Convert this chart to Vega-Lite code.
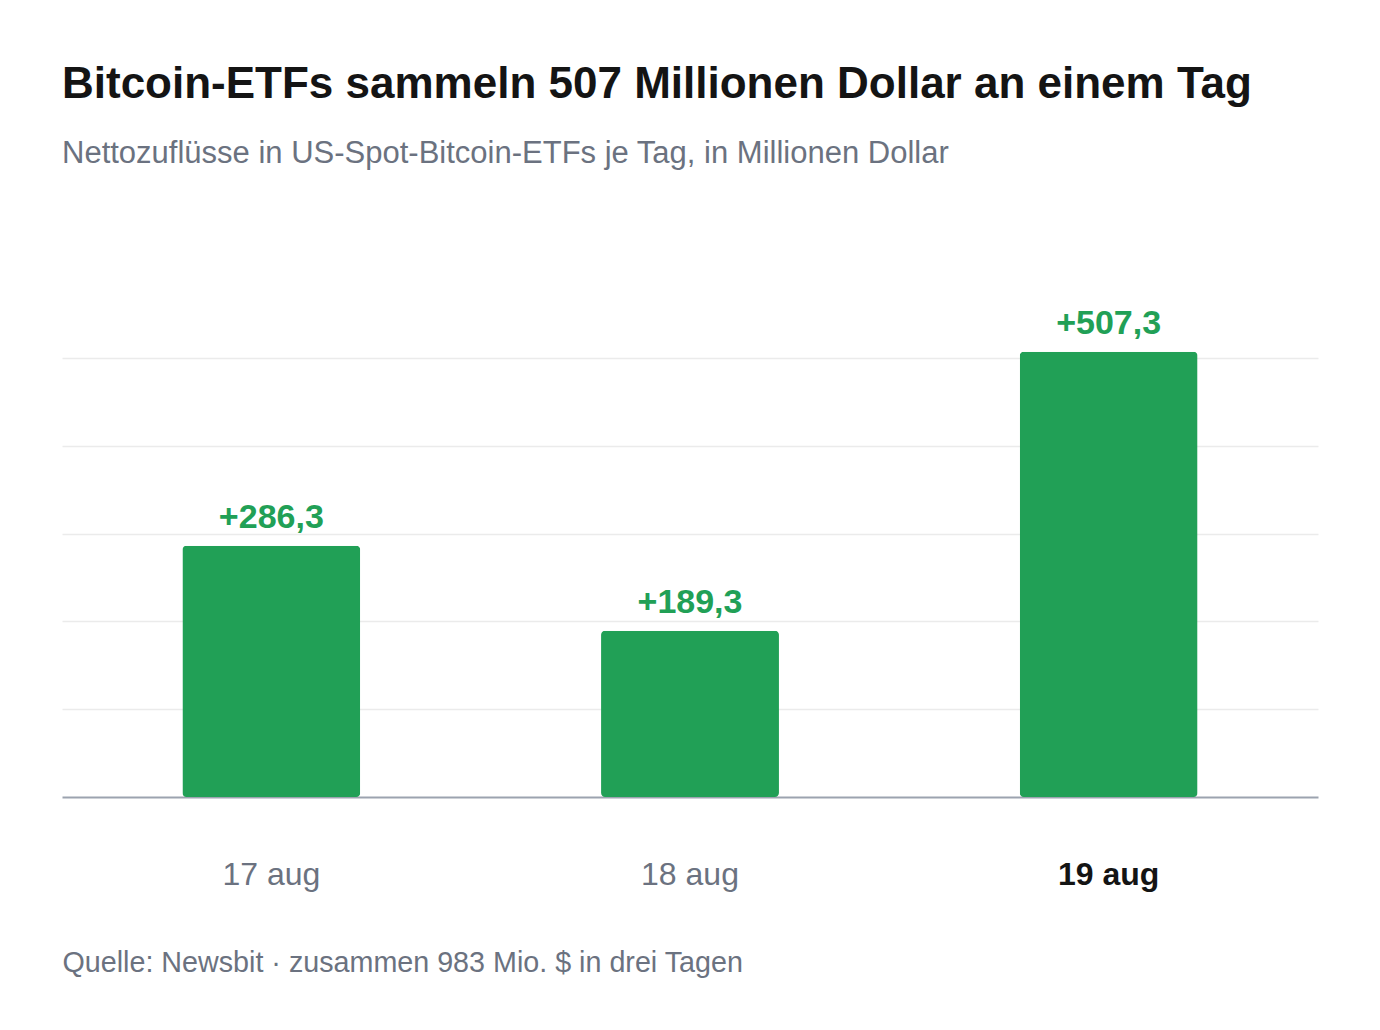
{
  "$schema": "https://vega.github.io/schema/vega-lite/v6.json",
  "width": 1256,
  "height": 509,
  "padding": {"left": 62, "right": 62, "top": 63, "bottom": 40},
  "background": "#ffffff",
  "config": {
    "font": "Liberation Sans",
    "view": {"stroke": null}
  },
  "title": {
    "text": "Bitcoin-ETFs sammeln 507 Millionen Dollar an einem Tag",
    "subtitle": "Nettozuflüsse in US-Spot-Bitcoin-ETFs je Tag, in Millionen Dollar",
    "anchor": "start",
    "frame": "group",
    "fontSize": 44,
    "fontWeight": "bold",
    "color": "#141414",
    "subtitleFontSize": 31,
    "subtitleColor": "#6b7280",
    "subtitlePadding": 32,
    "offset": 119
  },
  "data": {
    "values": [
      {"day": "17 aug", "value": 286.3, "label": "+286,3"},
      {"day": "18 aug", "value": 189.3, "label": "+189,3"},
      {"day": "19 aug", "value": 507.3, "label": "+507,3"}
    ]
  },
  "encoding": {
    "x": {
      "field": "day",
      "type": "nominal",
      "sort": null,
      "scale": {"paddingInner": 0.575, "paddingOuter": 0.2875},
      "axis": {
        "title": "Quelle: Newsbit · zusammen 983 Mio. $ in drei Tagen",
        "titleFontSize": 28.7,
        "titleFontWeight": "normal",
        "titleColor": "#6b7280",
        "titleAnchor": "start",
        "titleAlign": "left",
        "titlePadding": 58,
        "labelAngle": 0,
        "labelFontSize": 32,
        "labelPadding": 62.5,
        "labelColor": {"condition": {"test": "datum.label == '19 aug'", "value": "#141414"}, "value": "#6b7280"},
        "labelFontWeight": {"condition": {"test": "datum.label == '19 aug'", "value": "bold"}, "value": "normal"},
        "ticks": false,
        "domainColor": "#9ca3af",
        "domainWidth": 2,
        "grid": false
      }
    },
    "y": {
      "field": "value",
      "type": "quantitative",
      "scale": {"domain": [0, 580], "nice": false},
      "axis": {
        "title": null,
        "labels": false,
        "ticks": false,
        "domain": false,
        "grid": true,
        "gridColor": "#ebebeb",
        "gridWidth": 1.5,
        "values": [100, 200, 300, 400, 500]
      }
    }
  },
  "layer": [
    {
      "mark": {"type": "bar", "color": "#21a056", "cornerRadius": 4}
    },
    {
      "mark": {"type": "text", "baseline": "alphabetic", "dy": -18, "fontSize": 34, "fontWeight": "bold", "color": "#21a056"},
      "encoding": {"text": {"field": "label"}}
    }
  ]
}
